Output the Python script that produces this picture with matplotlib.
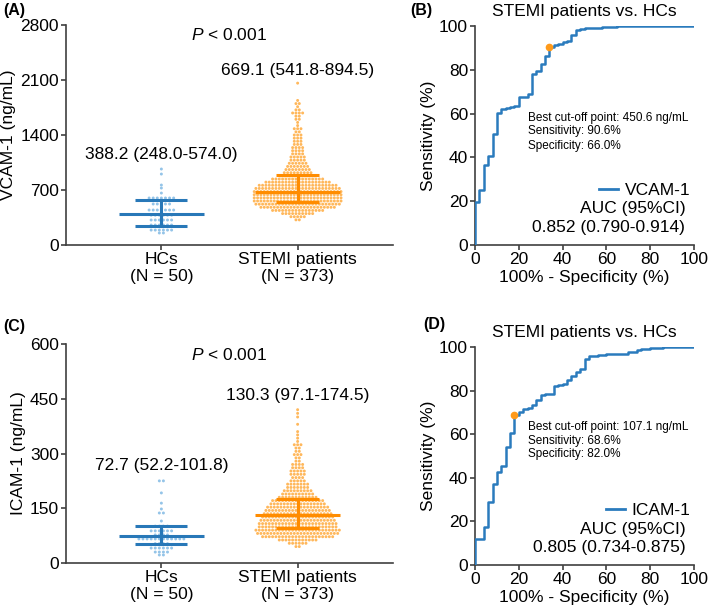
import matplotlib.pyplot as plt
from matplotlib.lines import Line2D
import numpy as np

plt.rcParams['font.family'] = ['Liberation Sans', 'DejaVu Sans']
plt.rcParams['mathtext.fontset'] = 'custom'
plt.rcParams['mathtext.it'] = 'Liberation Sans:italic'
plt.rcParams['mathtext.rm'] = 'Liberation Sans'

GROUPS = ["HCs\n(N = 50)", "STEMI patients\n(N = 373)"]

# scatter dot rows: row value and number of dots in it
VCAM_HC_VALUES = [153, 190, 254, 318, 380, 445, 522, 598, 661, 725, 763, 903, 967]
VCAM_HC_COUNTS = [2, 6, 6, 6, 6, 7, 5, 7, 1, 1, 1, 1, 1]
VCAM_ST_VALUES = [320, 360, 400, 440, 480, 520, 560, 600, 640, 680, 720, 760, 800,
                  840, 880, 920, 960, 1000, 1040, 1080, 1120, 1160, 1200, 1240,
                  1280, 1320, 1360, 1400, 1440, 1480, 1520, 1560, 1600, 1640,
                  1680, 1720, 1760, 1800, 1840, 2060]
VCAM_ST_COUNTS = [2, 5, 10, 16, 23, 26, 27, 27, 27, 27, 26, 24, 20,
                  16, 11, 9, 8, 7, 6, 5, 5, 4, 4, 4,
                  3, 3, 3, 3, 2, 3, 1, 1, 2, 2,
                  4, 2, 1, 2, 1, 1]
VCAM_MEDIAN = [388.2, 669.1]
VCAM_Q1 = [248.0, 541.8]
VCAM_Q3 = [574.0, 894.5]

ICAM_HC_VALUES = [22, 30, 41, 53, 66, 77, 88, 101, 115, 137, 148, 164, 192, 225]
ICAM_HC_COUNTS = [2, 4, 6, 4, 12, 4, 6, 4, 1, 2, 1, 1, 1, 2]
ICAM_ST_VALUES = [45, 54, 63, 72, 81, 90, 99, 108, 117, 126, 135, 144, 153, 162,
                  171, 180, 189, 198, 207, 216, 225, 234, 243, 252, 261, 270,
                  279, 288, 297, 306, 315, 324, 333, 342, 351, 360, 380, 400,
                  410, 420]
ICAM_ST_COUNTS = [2, 6, 12, 22, 25, 26, 24, 24, 23, 22, 21, 20, 19, 17,
                  16, 12, 10, 9, 7, 7, 5, 4, 5, 5, 4, 4,
                  2, 2, 3, 2, 2, 3, 1, 1, 1, 1, 1, 1,
                  1, 1]
ICAM_MEDIAN = [72.7, 130.3]
ICAM_Q1 = [52.2, 97.1]
ICAM_Q3 = [101.8, 174.5]

# ROC staircase corners (100% - specificity, sensitivity)
VCAM_FPR = [0, 0, 2, 4, 6, 8, 10, 12, 14, 16, 18, 20, 24, 26, 28, 30, 32, 34,
            36, 38, 40, 42, 44, 46, 48, 50, 54, 58, 62, 65, 100]
VCAM_TPR = [0, 19.5, 25, 36.5, 40.5, 50.5, 60.5, 62, 62.5, 63, 63.5, 67.5, 69,
            78, 79.5, 82.5, 86.5, 90.6, 91.5, 92, 92.5, 93, 96, 98, 98.5, 99,
            99.3, 99.5, 99.7, 100, 100]
VCAM_BEST = (34.0, 90.6)
ICAM_FPR = [0, 0, 4, 6, 8, 10, 12, 14, 16, 18, 20, 22, 24, 26, 28, 30, 32, 34,
            36, 38, 40, 42, 44, 46, 48, 50, 52, 56, 60, 64, 70, 74, 76, 80, 86, 100]
ICAM_TPR = [0, 12, 17.5, 29, 37, 42.5, 45.5, 54, 60.5, 68.6, 70, 71.5, 72, 73.5,
            75.5, 78, 78.3, 78.6, 82, 82.5, 83, 85, 86.5, 88.5, 90, 94.5, 96,
            96.5, 96.7, 97, 97.5, 98.5, 99.3, 99.5, 100, 100]
ICAM_BEST = (18.0, 68.6)

DOT_COLORS = ["#94c4e8", "#ffb85c"]
BAR_COLORS = ["#2878b8", "#ff8c00"]
ROC_COLOR = "#2a7bbd"
SPINE = "#404040"
FS = 12.5


def swarm_xy(center, values, counts, dx):
    xs, ys = [], []
    for v, n in zip(values, counts):
        offs = (np.arange(n) - (n - 1) / 2) * dx
        xs.extend(center + offs)
        ys.extend([v] * n)
    return np.array(xs), np.array(ys)


def style_axes(ax):
    for s in ("top", "right"):
        ax.spines[s].set_visible(False)
    for s in ("left", "bottom"):
        ax.spines[s].set_color(SPINE)
        ax.spines[s].set_linewidth(1.2)
    ax.tick_params(colors=SPINE, labelcolor="black", labelsize=FS,
                   length=3.5, width=1.2, pad=1.5)


def dot_panel(ax, rows, med, q1, q3, ymax, ylabel, texts):
    for i, (vals, cnts) in enumerate(rows):
        c = i + 1
        dx = 0.03 if i == 0 else 0.0245
        x, y = swarm_xy(c, vals, cnts, dx)
        ax.scatter(x, y, s=4.5, color=DOT_COLORS[i], edgecolors="none", zorder=2)
        half_med = 0.31
        half_cap = 0.19 if i == 0 else 0.16
        ax.plot([c - half_med, c + half_med], [med[i]] * 2, color=BAR_COLORS[i],
                lw=2.2, zorder=3, solid_capstyle="butt")
        ax.plot([c - half_cap, c + half_cap], [q1[i]] * 2, color=BAR_COLORS[i],
                lw=2.2, zorder=3, solid_capstyle="butt")
        ax.plot([c - half_cap, c + half_cap], [q3[i]] * 2, color=BAR_COLORS[i],
                lw=2.2, zorder=3, solid_capstyle="butt")
        ax.plot([c, c], [q1[i], q3[i]], color=BAR_COLORS[i], lw=2.2, zorder=3)
    ax.set_xlim(0.3, 2.7)
    ax.set_ylim(0, ymax)
    ax.set_yticks(np.linspace(0, ymax, 5))
    ax.set_xticks([1, 2])
    ax.set_xticklabels(GROUPS, fontsize=FS, linespacing=1.15)
    ax.set_ylabel(ylabel, fontsize=FS, labelpad=3)
    style_axes(ax)
    ax.text(1.5, texts[0], "$P$ < 0.001", ha="center", va="center", fontsize=FS)
    ax.text(1.0, texts[1], f"{med[0]:.1f} ({q1[0]:.1f}-{q3[0]:.1f})",
            ha="center", va="center", fontsize=FS)
    ax.text(2.0, texts[2], f"{med[1]:.1f} ({q1[1]:.1f}-{q3[1]:.1f})",
            ha="center", va="center", fontsize=FS)


def roc_panel(ax, fpr, tpr, best, name, auc_txt, cut_lines, cut_y):
    ax.step(fpr, tpr, where="post", color=ROC_COLOR, lw=1.8, zorder=3)
    ax.plot(*best, "o", color="#ff9a1a", ms=4.5, zorder=4)
    ax.set_xlim(0, 100)
    ax.set_ylim(0, 100)
    ax.set_xticks(range(0, 101, 20))
    ax.set_yticks(range(0, 101, 20))
    ax.set_xlabel("100% - Specificity (%)", fontsize=FS, labelpad=2)
    ax.set_ylabel("Sensitivity (%)", fontsize=FS, labelpad=2)
    style_axes(ax)
    ax.text(0.5, 1.065, "STEMI patients vs. HCs", transform=ax.transAxes,
            ha="center", va="center", fontsize=FS)
    for txt, yy in zip(cut_lines, cut_y):
        ax.text(24, yy, txt, ha="left", va="center", fontsize=8.5)
    ax.legend([Line2D([], [], color=ROC_COLOR, lw=2)], [name], loc="center right",
              bbox_to_anchor=(0.985, 0.25), frameon=False, fontsize=FS,
              handlelength=1.1, handletextpad=0.4, borderpad=0, borderaxespad=0)
    ax.text(0.96, 0.165, "AUC (95%CI)", transform=ax.transAxes,
            ha="right", va="center", fontsize=FS)
    ax.text(0.96, 0.08, auc_txt, transform=ax.transAxes,
            ha="right", va="center", fontsize=FS)


fig = plt.figure(figsize=(7.09, 6.14), dpi=100)
W, H = 709, 614
axA = fig.add_axes([66 / W, 1 - 245 / H, 327 / W, 220 / H])
axB = fig.add_axes([475 / W, 1 - 245 / H, 219 / W, 219 / H])
axC = fig.add_axes([66 / W, 1 - 563 / H, 327 / W, 219 / H])
axD = fig.add_axes([475 / W, 1 - 565 / H, 219 / W, 218 / H])

dot_panel(axA, [(VCAM_HC_VALUES, VCAM_HC_COUNTS), (VCAM_ST_VALUES, VCAM_ST_COUNTS)],
          VCAM_MEDIAN, VCAM_Q1, VCAM_Q3, 2800, "VCAM-1 (ng/mL)",
          (2670, 1146, 2227))
dot_panel(axC, [(ICAM_HC_VALUES, ICAM_HC_COUNTS), (ICAM_ST_VALUES, ICAM_ST_COUNTS)],
          ICAM_MEDIAN, ICAM_Q1, ICAM_Q3, 600, "ICAM-1 (ng/mL)",
          (570, 266, 460))

roc_panel(axB, VCAM_FPR, VCAM_TPR, VCAM_BEST, "VCAM-1", "0.852 (0.790-0.914)",
          ["Best cut-off point: 450.6 ng/mL", "Sensitivity: 90.6%",
           "Specificity: 66.0%"], [57.9, 52.0, 45.3])
roc_panel(axD, ICAM_FPR, ICAM_TPR, ICAM_BEST, "ICAM-1", "0.805 (0.734-0.875)",
          ["Best cut-off point: 107.1 ng/mL", "Sensitivity: 68.6%",
           "Specificity: 82.0%"], [63.3, 57.0, 51.0])

for lab, x, y in (("(A)", 3, 11), ("(B)", 410, 11), ("(C)", 3, 327), ("(D)", 423, 325)):
    fig.text(x / W, 1 - y / H, lab, fontsize=11.5, fontweight="bold",
             ha="left", va="center")

fig.savefig("out.png", dpi=100)
